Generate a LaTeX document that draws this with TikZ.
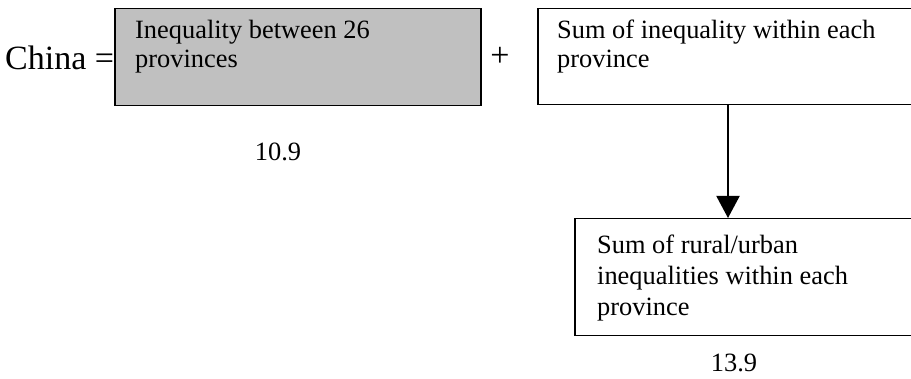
\documentclass[tikz,border=0pt]{standalone}
\usepackage{fontspec}
\setmainfont{Liberation Serif}
\usetikzlibrary{arrows.meta}
\definecolor{boxgray}{RGB}{192,192,192}
\begin{document}
\begin{tikzpicture}[x=1pt,y=-1pt,
  panel/.style={draw=black, line width=1.5pt, anchor=north west, inner sep=0pt},
  boxtext/.style={font=\fontsize{26.4}{29}\selectfont, align=left, anchor=north west, inner sep=0pt},
  plain/.style={font=\fontsize{26.4}{30}\selectfont, inner sep=0pt},
  flow/.style={line width=2pt, -{Triangle[length=22pt,width=23pt]}}]
\useasboundingbox (0,0) rectangle (911,379);

% left-hand side of the decomposition
\node[font=\fontsize{34}{40}\selectfont, anchor=base west, inner sep=0pt] (china) at (5,70) {China =};

% between-province component
\node[panel, fill=boxgray, minimum width=366pt, minimum height=97pt] (between) at (114,8) {};
\node[boxtext] (betweentxt) at (135,20) {Inequality between 26\\provinces};
\node[font=\fontsize{34}{40}\selectfont, inner sep=0pt] (plus) at (500,57) {+};

% within-province component
\node[panel, minimum width=384pt, minimum height=96pt] (within) at (537,8) {};
\node[boxtext] (withintxt) at (557,20) {Sum of inequality within each\\province};

% rural/urban split of the within-province term
\node[panel, minimum width=350pt, minimum height=117pt] (rural) at (574,218) {};
\node[boxtext, font=\fontsize{26.4}{31}\selectfont] (ruraltxt) at (597,235) {Sum of rural/urban\\inequalities within each\\province};

\coordinate (col) at (728,0);
\draw[flow] (within.south -| col) -- (rural.north -| col);

% values
\node[plain] (vbetween) at (278,152) {10.9};
\node[plain] (vrural) at (734,363) {13.9};
\end{tikzpicture}
\end{document}
